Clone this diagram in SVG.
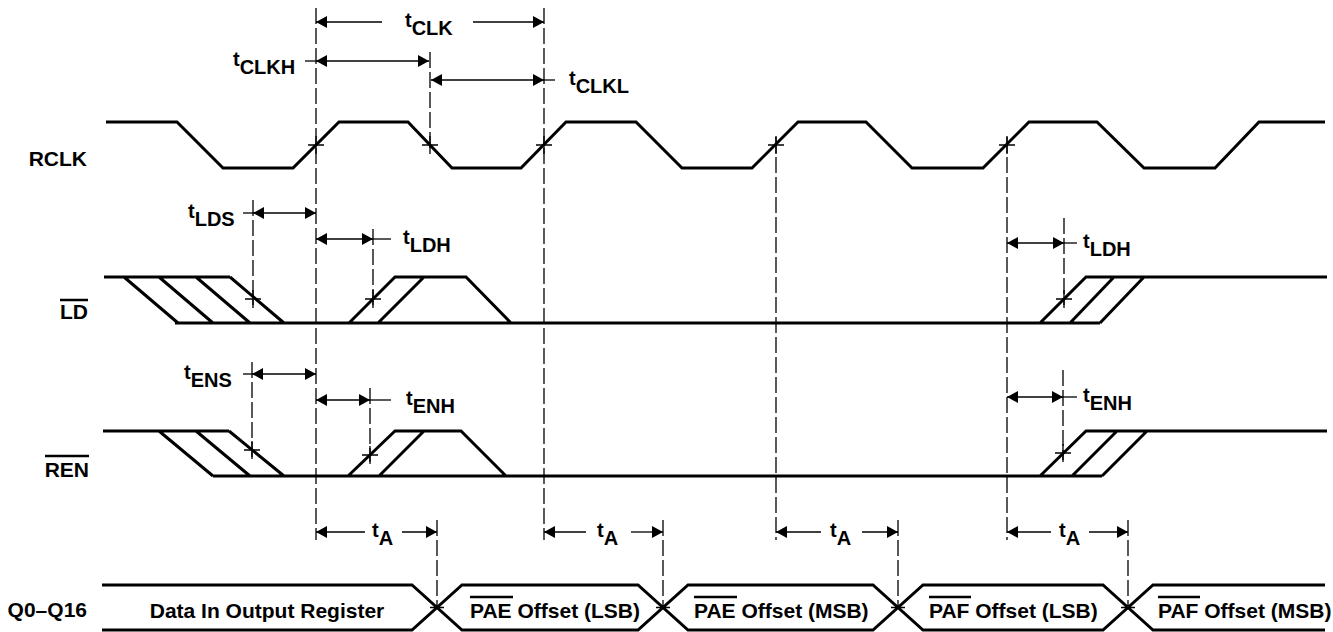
<svg xmlns="http://www.w3.org/2000/svg" width="1333" height="632" viewBox="0 0 1333 632">
<style>
.w{fill:none;stroke:#000;stroke-width:3;stroke-linejoin:miter;stroke-linecap:butt}
.d{fill:none;stroke:#000;stroke-width:1.3;stroke-dasharray:16,4}
.a{fill:none;stroke:#000;stroke-width:1.3}
.x{fill:none;stroke:#000;stroke-width:1.3}
.o{fill:none;stroke:#000;stroke-width:2.5}
.lb{font-family:"Liberation Sans",Arial,sans-serif;font-weight:bold;font-size:21px;fill:#000}
.t{font-family:"Liberation Sans",Arial,sans-serif;font-weight:bold;font-size:20px;fill:#000}
</style>
<defs>
<marker id="ah" viewBox="0 0 11 12" refX="11" refY="6" markerWidth="11" markerHeight="12" markerUnits="userSpaceOnUse" orient="auto-start-reverse">
<path d="M0,0 L11,6 L0,12 z" fill="#000"/>
</marker>
</defs>
<rect width="1333" height="632" fill="#fff"/>

<g id="labels">
<text class="lb" x="87" y="166" text-anchor="end">RCLK</text>
<text class="lb" x="88" y="319" text-anchor="end">LD</text>
<line class="o" x1="60" y1="300" x2="88" y2="300"/>
<text class="lb" x="89" y="477" text-anchor="end">REN</text>
<line class="o" x1="45" y1="456" x2="89" y2="456"/>
<text class="lb" x="87" y="617" text-anchor="end">Q0–Q16</text>
</g>

<g id="connectors">
<path class="d" d="M316,8 V540 M544,8 V540 M430,52 V152 M776,137 V540 M1007,137 V540 M437,520 V608 M663,520 V608 M898,520 V608 M1128,520 V608 M253,200 V305 M373,229 V305 M252,362 V457 M370,388 V462 M1064,218 V305 M1063,370 V460"/>
<!-- tCLK -->
<line class="a" x1="382" y1="22" x2="316" y2="22" marker-end="url(#ah)"/>
<line class="a" x1="473" y1="22" x2="544" y2="22" marker-end="url(#ah)"/>
<!-- tCLKH -->
<line class="a" x1="305" y1="61" x2="316" y2="61"/>
<line class="a" x1="316" y1="61" x2="429" y2="61" marker-start="url(#ah)" marker-end="url(#ah)"/>
<!-- tCLKL -->
<line class="a" x1="431" y1="80" x2="544" y2="80" marker-start="url(#ah)" marker-end="url(#ah)"/>
<line class="a" x1="544" y1="80" x2="555" y2="80"/>
<!-- tLDS -->
<line class="a" x1="243" y1="213" x2="253" y2="213"/>
<line class="a" x1="253" y1="213" x2="316" y2="213" marker-start="url(#ah)" marker-end="url(#ah)"/>
<!-- tLDH -->
<line class="a" x1="316" y1="239" x2="373" y2="239" marker-start="url(#ah)" marker-end="url(#ah)"/>
<line class="a" x1="373" y1="239" x2="391" y2="239"/>
<!-- tENS -->
<line class="a" x1="243" y1="374" x2="252" y2="374"/>
<line class="a" x1="252" y1="374" x2="316" y2="374" marker-start="url(#ah)" marker-end="url(#ah)"/>
<!-- tENH -->
<line class="a" x1="316" y1="400" x2="370" y2="400" marker-start="url(#ah)" marker-end="url(#ah)"/>
<line class="a" x1="370" y1="400" x2="391" y2="400"/>
<!-- tLDH right -->
<line class="a" x1="1007" y1="243" x2="1064" y2="243" marker-start="url(#ah)" marker-end="url(#ah)"/>
<line class="a" x1="1064" y1="243" x2="1077" y2="243"/>
<!-- tENH right -->
<line class="a" x1="1007" y1="397" x2="1063" y2="397" marker-start="url(#ah)" marker-end="url(#ah)"/>
<line class="a" x1="1063" y1="397" x2="1077" y2="397"/>
<!-- tA -->
<line class="a" x1="365" y1="532" x2="316" y2="532" marker-end="url(#ah)"/>
<line class="a" x1="402" y1="532" x2="437" y2="532" marker-end="url(#ah)"/>
<line class="a" x1="586" y1="532" x2="544" y2="532" marker-end="url(#ah)"/>
<line class="a" x1="631" y1="532" x2="663" y2="532" marker-end="url(#ah)"/>
<line class="a" x1="821" y1="532" x2="776" y2="532" marker-end="url(#ah)"/>
<line class="a" x1="862" y1="532" x2="898" y2="532" marker-end="url(#ah)"/>
<line class="a" x1="1051" y1="532" x2="1007" y2="532" marker-end="url(#ah)"/>
<line class="a" x1="1089" y1="532" x2="1128" y2="532" marker-end="url(#ah)"/>
<!-- crossing marks -->
<path class="x" d="M308,145 H324 M316,136 V154 M422,145 H438 M430,136 V154 M536,145 H552 M544,136 V154 M768,145 H784 M776,136 V154 M999,145 H1015 M1007,136 V154 M245,299 H261 M253,290 V308 M365,299 H381 M373,290 V308 M1056,299 H1072 M1064,290 V308 M244,450 H260 M252,441 V459 M362,455 H378 M370,446 V464 M1055,453 H1071 M1063,444 V462 M430,607.5 H444 M656,607.5 H670 M891,607.5 H905 M1121,607.5 H1135"/>
</g>

<g id="timing-labels">
<text class="t" x="405" y="27">t<tspan dy="8">CLK</tspan></text>
<text class="t" x="233" y="66">t<tspan dy="8">CLKH</tspan></text>
<text class="t" x="569" y="85">t<tspan dy="8">CLKL</tspan></text>
<text class="t" x="188" y="218">t<tspan dy="8">LDS</tspan></text>
<text class="t" x="403" y="244">t<tspan dy="8">LDH</tspan></text>
<text class="t" x="184" y="379">t<tspan dy="8">ENS</tspan></text>
<text class="t" x="406" y="405">t<tspan dy="8">ENH</tspan></text>
<text class="t" x="1083" y="248">t<tspan dy="8">LDH</tspan></text>
<text class="t" x="1083" y="402">t<tspan dy="8">ENH</tspan></text>
<text class="t" x="372" y="537">t<tspan dy="8">A</tspan></text>
<text class="t" x="597" y="537">t<tspan dy="8">A</tspan></text>
<text class="t" x="830" y="537">t<tspan dy="8">A</tspan></text>
<text class="t" x="1059" y="537">t<tspan dy="8">A</tspan></text>
</g>

<g id="rclk">
<path class="w" d="M106,122 H177 L223,168 H293 L339,122 H408 L452,168 H521 L566,122 H636 L682,168 H752 L798,122 H866 L912,168 H983 L1029,122 H1097 L1144,168 H1215 L1259,122 H1325"/>
</g>

<g id="ld">
<path class="w" d="M104,277 H230 M124,277 L178,323 M159,277 L213,323 M196,277 L250,323 M230,277 L284,323 M175,323 H1100 M349,323 L395,277 H466 L511,323 M378,323 L424,277 M1040,323 L1086,277 H1327 M1070,323 L1114,277 M1100,323 L1144,277"/>
</g>

<g id="ren">
<path class="w" d="M103,431 H229 M159,431 L213,476 M196,431 L250,476 M229,431 L284,476 M213,476 H1102 M348,476 L395,431 H461 L506,476 M379,476 L424,431 M1040,476 L1086,431 H1327 M1072,476 L1117,431 M1102,476 L1147,431"/>
</g>

<g id="bus">
<path class="w" d="M102,585 H412 L462,630 H638 L688,585 H873 L923,630 H1103 L1153,585 H1325"/>
<path class="w" d="M102,630 H412 L462,585 H638 L688,630 H873 L923,585 H1103 L1153,630 H1325"/>
<text class="lb" x="267" y="618" text-anchor="middle">Data In Output Register</text>
<text class="lb" x="470" y="618">PAE Offset (LSB)</text>
<line class="o" x1="470" y1="597" x2="513" y2="597"/>
<text class="lb" x="694" y="618">PAE Offset (MSB)</text>
<line class="o" x1="694" y1="597" x2="737" y2="597"/>
<text class="lb" x="929" y="618">PAF Offset (LSB)</text>
<line class="o" x1="929" y1="597" x2="971" y2="597"/>
<text class="lb" x="1158" y="618">PAF Offset (MSB)</text>
<line class="o" x1="1158" y1="597" x2="1200" y2="597"/>
</g>
</svg>
